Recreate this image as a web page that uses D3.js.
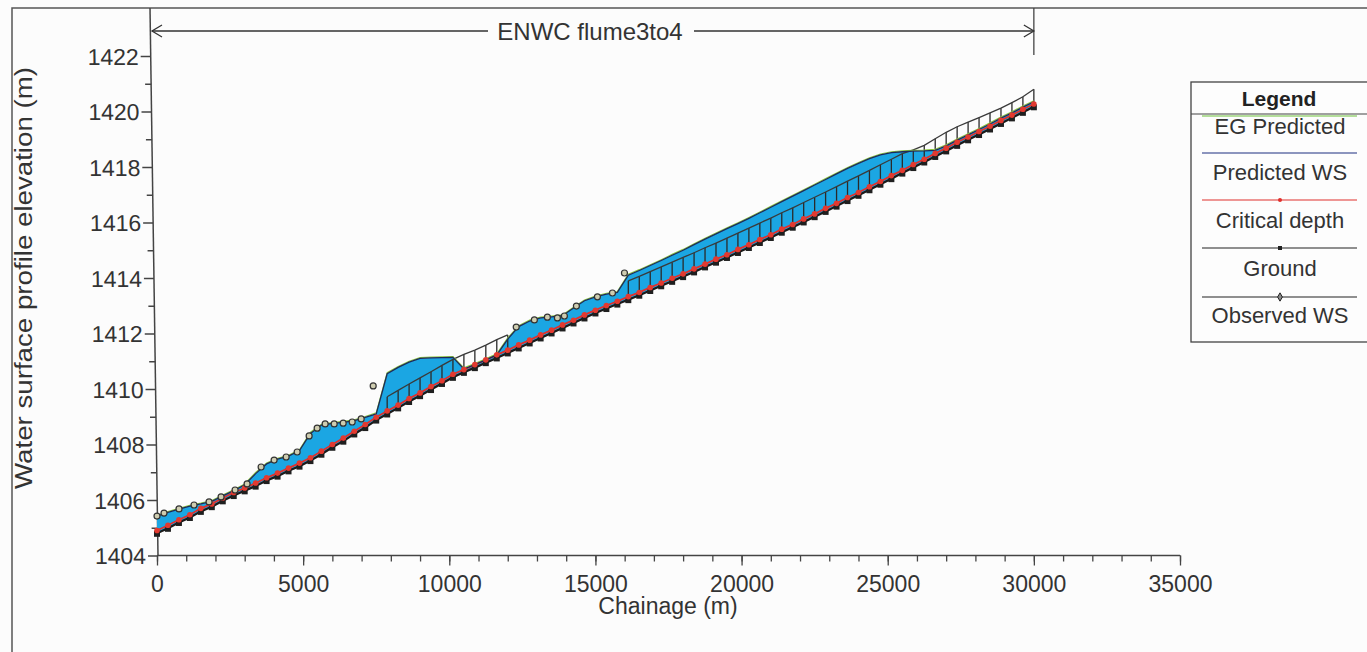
<!DOCTYPE html>
<html>
<head>
<meta charset="utf-8">
<script src="https://cdn.jsdelivr.net/npm/d3@7"></script>
<style>
  html, body { margin: 0; padding: 0; background: #fcfcfc; }
  svg { display: block; font-family: "Liberation Sans", Arial, sans-serif; }
</style>
</head>
<body>
<svg id="chart" width="1367" height="652"></svg>
<script>
// cross-section chainages (m)
const chainage = [0, 375, 750, 1125, 1500, 1875, 2250, 2625, 3000, 3375, 3750, 4125, 4500, 4875,
  5250, 5625, 6000, 6375, 6750, 7125, 7500, 7875, 8250, 8625, 9000, 9375, 9750, 10125, 10500,
  10875, 11250, 11625, 12000, 12375, 12750, 13125, 13500, 13875, 14250, 14625, 15000, 15375,
  15750, 16125, 16500, 16875, 17250, 17625, 18000, 18375, 18750, 19125, 19500, 19875, 20250,
  20625, 21000, 21375, 21750, 22125, 22500, 22875, 23250, 23625, 24000, 24375, 24750, 25125,
  25500, 25875, 26250, 26625, 27000, 27375, 27750, 28125, 28500, 28875, 29250, 29625, 30000];

const ground = [1404.80, 1404.98, 1405.19, 1405.37, 1405.59, 1405.76, 1405.97, 1406.16, 1406.33,
  1406.50, 1406.70, 1406.86, 1407.05, 1407.22, 1407.42, 1407.65, 1407.90, 1408.12, 1408.38,
  1408.61, 1408.88, 1409.10, 1409.32, 1409.55, 1409.76, 1409.98, 1410.20, 1410.42, 1410.60,
  1410.77, 1410.95, 1411.12, 1411.30, 1411.48, 1411.66, 1411.84, 1412.02, 1412.20, 1412.38,
  1412.56, 1412.74, 1412.90, 1413.06, 1413.22, 1413.38, 1413.55, 1413.72, 1413.88, 1414.05,
  1414.22, 1414.40, 1414.57, 1414.74, 1414.92, 1415.10, 1415.28, 1415.46, 1415.65, 1415.83,
  1416.02, 1416.21, 1416.40, 1416.59, 1416.79, 1416.98, 1417.18, 1417.38, 1417.58, 1417.78,
  1417.98, 1418.18, 1418.38, 1418.58, 1418.78, 1418.98, 1419.17, 1419.37, 1419.57, 1419.77,
  1419.97, 1420.17];

const critical = [1404.90, 1405.09, 1405.29, 1405.47, 1405.70, 1405.86, 1406.07, 1406.27, 1406.43,
  1406.61, 1406.80, 1406.97, 1407.15, 1407.33, 1407.52, 1407.76, 1408.00, 1408.23, 1408.48,
  1408.72, 1408.98, 1409.21, 1409.42, 1409.66, 1409.86, 1410.09, 1410.30, 1410.53, 1410.70,
  1410.88, 1411.05, 1411.23, 1411.40, 1411.59, 1411.76, 1411.95, 1412.12, 1412.31, 1412.48,
  1412.67, 1412.84, 1413.01, 1413.16, 1413.33, 1413.48, 1413.66, 1413.82, 1413.99, 1414.15,
  1414.33, 1414.50, 1414.68, 1414.84, 1415.03, 1415.20, 1415.39, 1415.56, 1415.76, 1415.93,
  1416.13, 1416.31, 1416.51, 1416.69, 1416.90, 1417.08, 1417.29, 1417.48, 1417.69, 1417.88,
  1418.09, 1418.28, 1418.49, 1418.68, 1418.89, 1419.08, 1419.28, 1419.47, 1419.68, 1419.87,
  1420.08, 1420.27];

const predictedWS = [1405.42, 1405.55, 1405.67, 1405.78, 1405.86, 1405.95, 1406.15, 1406.34, 1406.55,
  1406.95, 1407.30, 1407.47, 1407.58, 1407.78, 1408.40, 1408.70, 1408.76, 1408.80, 1408.86,
  1408.98, 1409.10, 1410.55, 1410.78, 1410.97, 1411.10, 1411.12, 1411.13, 1411.14, 1410.72,
  1410.88, 1411.05, 1411.23, 1411.80, 1412.25, 1412.45, 1412.56, 1412.60, 1412.64, 1412.92,
  1413.18, 1413.32, 1413.42, 1413.48, 1414.10, 1414.27, 1414.45, 1414.63, 1414.82, 1415.00,
  1415.20, 1415.40, 1415.59, 1415.78, 1415.96, 1416.15, 1416.35, 1416.55, 1416.75, 1416.95,
  1417.15, 1417.35, 1417.55, 1417.75, 1417.95, 1418.13, 1418.30, 1418.44, 1418.52, 1418.55,
  1418.57, 1418.58, 1418.60, 1418.76, 1418.97, 1419.16, 1419.35, 1419.55, 1419.76, 1419.95,
  1420.16, 1420.35];

const egPredicted = [1405.45, 1405.58, 1405.70, 1405.81, 1405.89, 1405.98, 1406.18, 1406.37, 1406.58,
  1406.99, 1407.33, 1407.50, 1407.61, 1407.81, 1408.44, 1408.73, 1408.79, 1408.83, 1408.89,
  1409.01, 1409.14, 1410.59, 1410.81, 1411.00, 1411.13, 1411.15, 1411.16, 1411.17, 1410.76,
  1410.92, 1411.09, 1411.27, 1411.84, 1412.28, 1412.48, 1412.59, 1412.63, 1412.67, 1412.95,
  1413.21, 1413.35, 1413.45, 1413.51, 1414.14, 1414.30, 1414.48, 1414.66, 1414.85, 1415.03,
  1415.23, 1415.43, 1415.62, 1415.81, 1415.99, 1416.18, 1416.38, 1416.58, 1416.78, 1416.98,
  1417.18, 1417.38, 1417.58, 1417.78, 1417.98, 1418.16, 1418.33, 1418.47, 1418.55, 1418.58,
  1418.60, 1418.61, 1418.64, 1418.80, 1419.01, 1419.20, 1419.39, 1419.59, 1419.80, 1419.99,
  1420.20, 1420.39];

// top of the hatched reaches (null = no hatching at that section)
const hatchTop = [null, null, null, null, null, null, null, null, null, null, null, null, null, null,
  null, null, null, null, null, null, null, 1409.72, 1409.95, 1410.18, 1410.40, 1410.62, 1410.85,
  1411.07, 1411.25, 1411.40, 1411.58, 1411.78, 1411.95, null, null, null, null, null, null, null,
  null, null, null, 1413.90, 1414.06, 1414.23, 1414.40, 1414.57, 1414.74, 1414.91, 1415.09,
  1415.26, 1415.44, 1415.62, 1415.80, 1415.98, 1416.16, 1416.35, 1416.53, 1416.72, 1416.91,
  1417.10, 1417.29, 1417.49, 1417.68, 1417.88, 1418.08, 1418.28, 1418.48, 1418.62, 1418.78,
  1419.02, 1419.25, 1419.45, 1419.62, 1419.78, 1419.95, 1420.12, 1420.32, 1420.53, 1420.80];

const obsChainage = [0, 240, 753, 1267, 1781, 2192, 2671, 3082, 3562, 4007, 4418, 4795, 5205, 5479,
  5753, 6062, 6370, 6678, 6986, 7397, 12290, 12911, 13356, 13699, 13938, 14349, 15068, 15582, 15993];
const observedWS = [1405.42, 1405.53, 1405.68, 1405.82, 1405.93, 1406.11, 1406.36, 1406.58, 1407.19,
  1407.44, 1407.55, 1407.73, 1408.31, 1408.59, 1408.74, 1408.74, 1408.77, 1408.81, 1408.92, 1410.11,
  1412.23, 1412.49, 1412.59, 1412.56, 1412.63, 1412.99, 1413.32, 1413.46, 1414.18];

const xTicks = [0, 5000, 10000, 15000, 20000, 25000, 30000, 35000];
const yTicks = [1404, 1406, 1408, 1410, 1412, 1414, 1416, 1418, 1420, 1422];
const legendLabels = ["EG  Predicted", "Predicted WS", "Critical depth", "Ground", "Observed WS"];

const textColor = "#333";
const fillColor = "#1ba6e3";
const svg = d3.select("#chart");

const x = d3.scaleLinear().domain([0, 35000]).range([157, 1180]);
const y = d3.scaleLinear().domain([1404, 1422]).range([555.5, 56]);

const stations = chainage.map((c, i) => ({
  c: c, g: ground[i], cr: critical[i], ws: predictedWS[i], eg: egPredicted[i], top: hatchTop[i]
}));

// outer frame of the scanned figure
svg.append("path")
  .attr("d", "M12,660 L12,8 L1375,8")
  .attr("fill", "none").attr("stroke", "#555").attr("stroke-width", 1.5);

// x axis
const xAxis = svg.append("g").attr("transform", `translate(0,${y(1404)})`)
  .call(d3.axisBottom(x).tickValues(d3.range(0, 35001, 1000)).tickSize(6).tickFormat(""));
xAxis.append("g").call(d3.axisBottom(x).tickValues(xTicks).tickSize(10).tickFormat(d3.format("d")));
xAxis.append("line").attr("x1", x(0)).attr("x2", x(35000))
  .attr("stroke", "#444").attr("stroke-width", 1.5);

// y axis: the scanned axis leans slightly, so the group is skewed a little
const lean = 8 / 548;
const yAxis = svg.append("g")
  .attr("transform", `translate(${x(0) + 1 - y(1404) * lean},0) skewX(${Math.atan(lean) * 180 / Math.PI})`);
yAxis.call(d3.axisLeft(y).tickValues(d3.range(1405, 1423, 2)).tickSize(6).tickFormat(""));
yAxis.append("g").call(d3.axisLeft(y).tickValues(yTicks).tickSize(10).tickFormat(d3.format("d")));
yAxis.append("line").attr("y1", 8).attr("y2", y(1404))
  .attr("stroke", "#444").attr("stroke-width", 1.5);

svg.selectAll(".domain").remove();
svg.selectAll(".tick line").attr("stroke", "#444").attr("stroke-width", 1.3);
svg.selectAll(".tick text").attr("fill", textColor).attr("font-size", 23);
xAxis.selectAll(".tick text").attr("dy", "1.0em");
yAxis.selectAll(".tick text").attr("x", -12).attr("dy", "0.36em");

svg.append("text").attr("x", 668).attr("y", 614).attr("text-anchor", "middle")
  .attr("fill", textColor).attr("font-size", 23).text("Chainage (m)");
svg.append("text").attr("transform", `translate(32,278) rotate(-90)`)
  .attr("text-anchor", "middle").attr("fill", textColor).attr("font-size", 23)
  .attr("textLength", 422).attr("lengthAdjust", "spacingAndGlyphs")
  .text("Water surface profile elevation (m)");

// reach arrow at the top
const arrowY = 31;
const arrowLeft = 152;
svg.append("line").attr("x1", x(30000)).attr("x2", x(30000)).attr("y1", 8).attr("y2", 55)
  .attr("stroke", "#444").attr("stroke-width", 1.3);
svg.append("path")
  .attr("d", `M${arrowLeft},${arrowY} L488,${arrowY} M694,${arrowY} L${x(30000)},${arrowY}`)
  .attr("stroke", "#333").attr("stroke-width", 1.3);
svg.append("path")
  .attr("d", `M${arrowLeft + 10},${arrowY - 6} L${arrowLeft},${arrowY} L${arrowLeft + 10},${arrowY + 6}` +
    `M${x(30000) - 10},${arrowY - 6} L${x(30000)},${arrowY} L${x(30000) - 10},${arrowY + 6}`)
  .attr("fill", "none").attr("stroke", "#333").attr("stroke-width", 1.3);
svg.append("text").attr("x", 590).attr("y", arrowY).attr("dy", "0.36em").attr("text-anchor", "middle")
  .attr("fill", textColor).attr("font-size", 24).text("ENWC flume3to4");

// water between ground and predicted water surface
svg.append("path").datum(stations)
  .attr("d", d3.area().x(d => x(d.c)).y0(d => y(d.g)).y1(d => y(d.ws)))
  .attr("fill", fillColor);

// hatched reaches
const hatched = stations.filter(d => d.top !== null);
svg.selectAll(".hatch").data(hatched).join("line").attr("class", "hatch")
  .attr("x1", d => x(d.c)).attr("x2", d => x(d.c))
  .attr("y1", d => y(d.g)).attr("y2", d => y(d.top))
  .attr("stroke", "#2a2a2a").attr("stroke-width", 1.3);
svg.append("path").datum(stations)
  .attr("d", d3.line().defined(d => d.top !== null).x(d => x(d.c)).y(d => y(d.top)))
  .attr("fill", "none").attr("stroke", "#3a3a3a").attr("stroke-width", 1.3);

// ground
svg.append("path").datum(stations)
  .attr("d", d3.line().x(d => x(d.c)).y(d => y(d.g)))
  .attr("fill", "none").attr("stroke", "#1a1a1a").attr("stroke-width", 2.2);
svg.selectAll(".gnd").data(stations).join("rect").attr("class", "gnd")
  .attr("x", d => x(d.c) - 3).attr("y", d => y(d.g) - 2.5)
  .attr("width", 6).attr("height", 6).attr("fill", "#1f1f1f");

// critical depth
svg.append("path").datum(stations)
  .attr("d", d3.line().x(d => x(d.c)).y(d => y(d.cr)))
  .attr("fill", "none").attr("stroke", "#e0302c").attr("stroke-width", 1.8);

// energy grade and predicted water surface
svg.append("path").datum(stations)
  .attr("d", d3.line().x(d => x(d.c)).y(d => y(d.eg)))
  .attr("fill", "none").attr("stroke", "#8cc63f").attr("stroke-width", 1.2);
svg.append("path").datum(stations)
  .attr("d", d3.line().x(d => x(d.c)).y(d => y(d.ws)))
  .attr("fill", "none").attr("stroke", "#1d2a5a").attr("stroke-width", 1.3);

svg.selectAll(".crit").data(stations).join("circle").attr("class", "crit")
  .attr("cx", d => x(d.c)).attr("cy", d => y(d.cr)).attr("r", 2.8).attr("fill", "#e23a30");

// observed water surface
const observed = obsChainage.map((c, i) => ({ c: c, v: observedWS[i] }));
svg.selectAll(".obs").data(observed).join("circle").attr("class", "obs")
  .attr("cx", d => x(d.c)).attr("cy", d => y(d.v)).attr("r", 3)
  .attr("fill", "#cfcdb0").attr("stroke", "#333").attr("stroke-width", 1.2);

// legend
const lg = svg.append("g");
lg.append("rect").attr("x", 1191).attr("y", 82).attr("width", 200).attr("height", 260)
  .attr("fill", "#fdfdfd").attr("stroke", "#444").attr("stroke-width", 1.3);
lg.append("text").attr("x", 1279).attr("y", 98).attr("dy", "0.36em").attr("text-anchor", "middle")
  .attr("font-weight", "bold").attr("font-size", 21).attr("fill", "#222").text("Legend");
lg.append("line").attr("x1", 1191).attr("x2", 1391).attr("y1", 114).attr("y2", 114)
  .attr("stroke", "#444").attr("stroke-width", 1.2);

const legendColors = ["#6cbf3a", "#1d2f80", "#e0302c", "#222", "#222"];
const legendLineY = [116, 153, 200, 248, 297];
const legendTextY = [126, 172, 220, 268, 315];
legendLabels.forEach((label, i) => {
  lg.append("line").attr("x1", 1202).attr("x2", 1357)
    .attr("y1", legendLineY[i]).attr("y2", legendLineY[i])
    .attr("stroke", legendColors[i]).attr("stroke-width", 1.2);
  if (i === 2) {
    lg.append("circle").attr("cx", 1280).attr("cy", legendLineY[i]).attr("r", 2).attr("fill", legendColors[i]);
  } else if (i === 3) {
    lg.append("rect").attr("x", 1278).attr("y", legendLineY[i] - 2).attr("width", 4).attr("height", 4)
      .attr("fill", legendColors[i]);
  } else if (i === 4) {
    lg.append("path").attr("transform", `translate(1280,${legendLineY[i]})`)
      .attr("d", d3.symbol(d3.symbolDiamond, 20)).attr("fill", "#888").attr("stroke", "#222");
  }
  lg.append("text").attr("x", 1280).attr("y", legendTextY[i]).attr("dy", "0.36em")
    .attr("text-anchor", "middle").attr("font-size", 22).attr("fill", textColor).text(label);
});
</script>
</body>
</html>
